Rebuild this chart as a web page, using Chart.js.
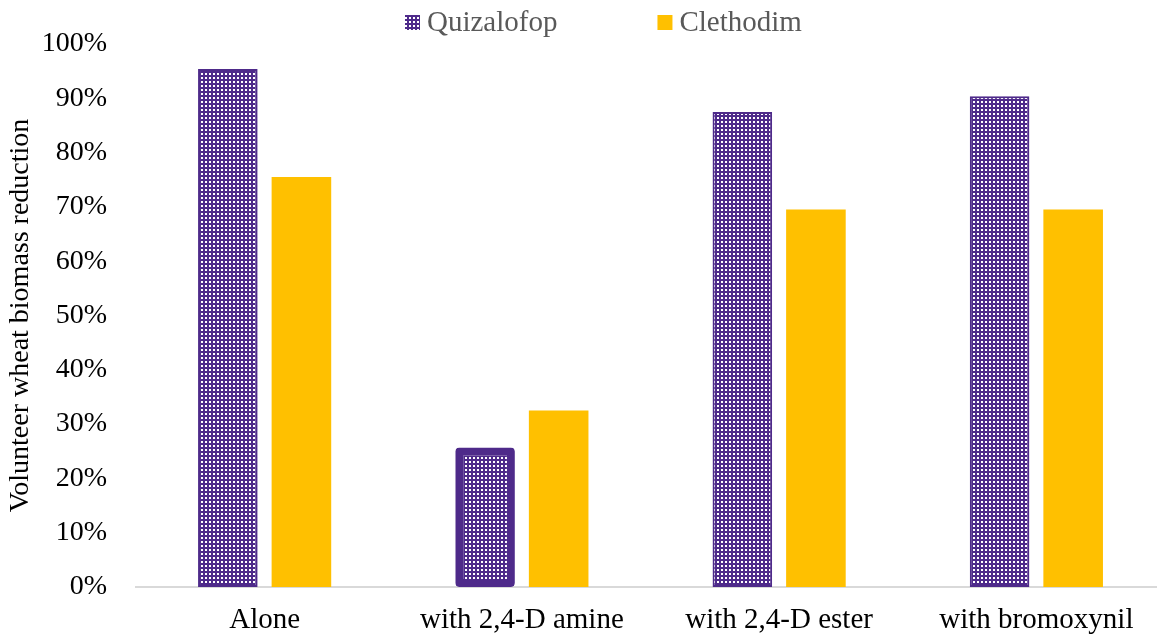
<!DOCTYPE html>
<html>
<head>
<meta charset="utf-8">
<script src="https://cdn.jsdelivr.net/npm/chart.js@4"></script>
<style>
  html, body { margin: 0; padding: 0; background: #ffffff; overflow: hidden; }
  #wrap { width: 1157px; height: 634px; overflow: hidden; }
</style>
</head>
<body>
<div id="wrap"><canvas id="c" width="1165" height="634"></canvas></div>
<script>
// Treatments and biomass reduction (%) for each graminicide
const categories = ['Alone', 'with 2,4-D amine', 'with 2,4-D ester', 'with bromoxynil'];
const quizalofop = [95.4, 25.7, 87.5, 90.4];
const clethodim = [75.5, 32.5, 69.5, 69.5];
const yTicks = [0, 10, 20, 30, 40, 50, 60, 70, 80, 90, 100];

const PURPLE = '#4E2A8A';
const GOLD = '#FFC000';
const serif = '"Liberation Serif", "Times New Roman", serif';

// Dotted fill: purple ground with small white squares
function dotPattern() {
  const t = document.createElement('canvas');
  t.width = 4; t.height = 4;
  const g = t.getContext('2d');
  g.fillStyle = PURPLE;
  g.fillRect(0, 0, 4, 4);
  g.fillStyle = '#ffffff';
  g.fillRect(1, 1, 2, 2);
  return g.createPattern(t, 'repeat');
}

const ctx = document.getElementById('c').getContext('2d');
const dots = dotPattern();

// Compact legend across the top: square swatch right next to its label
const topLegend = {
  id: 'topLegend',
  afterDraw(chart) {
    const c = chart.ctx;
    const box = 15, gap = 7, spacing = 100, cy = 22;
    c.save();
    c.font = '29px ' + serif;
    c.textBaseline = 'middle';
    c.textAlign = 'left';
    const items = chart.data.datasets.map((ds, i) => ({
      text: ds.label,
      fill: i === 0 ? dots : GOLD,
      w: c.measureText(ds.label).width
    }));
    const total = items.reduce((s, it) => s + box + gap + it.w, 0) + spacing * (items.length - 1);
    let x = Math.round(603.5 - total / 2);
    items.forEach(it => {
      c.fillStyle = it.fill;
      c.fillRect(x, cy - 7, box, box);
      c.fillStyle = '#595959';
      c.fillText(it.text, x + box + gap, cy + 1);
      x += box + gap + it.w + spacing;
    });
    c.restore();
  }
};

new Chart(ctx, {
  type: 'bar',
  data: {
    labels: categories,
    datasets: [
      {
        label: 'Quizalofop',
        data: quizalofop,
        backgroundColor: dots,
        borderColor: PURPLE,
        borderWidth: [2, 8, 2, 2],
        borderRadius: [0, 4, 0, 0],
        borderSkipped: false
      },
      {
        label: 'Clethodim',
        data: clethodim,
        backgroundColor: GOLD,
        borderWidth: 0
      }
    ]
  },
  options: {
    responsive: false,
    animation: false,
    layout: { padding: { left: 4, right: 0, top: 44, bottom: 0 } },
    categoryPercentage: 0.572,
    barPercentage: 0.81,
    plugins: {
      tooltip: { enabled: false },
      legend: { display: false }
    },
    scales: {
      x: {
        grid: { display: false, drawTicks: false },
        border: { display: true, color: '#d9d9d9', width: 2 },
        ticks: {
          font: { family: serif, size: 29, lineHeight: 1 },
          color: '#000000',
          padding: 19,
          maxRotation: 0
        },
        afterFit(axis) { axis.height = 47; }
      },
      y: {
        min: 0,
        max: 100,
        afterBuildTicks(axis) {
          axis.ticks = yTicks.map(v => ({ value: v }));
        },
        grid: { display: false, drawTicks: false },
        border: { display: false },
        ticks: {
          font: { family: serif, size: 28, lineHeight: 0.2 },
          color: '#000000',
          padding: 29,
          callback: v => v + '%'
        },
        title: {
          display: true,
          text: 'Volunteer wheat biomass reduction',
          font: { family: serif, size: 28, lineHeight: 1.2 },
          color: '#000000',
          padding: { top: 0, bottom: 4 }
        },
        afterFit(axis) { axis.width = 132; }
      }
    }
  },
  plugins: [topLegend]
});
</script>
</body>
</html>
